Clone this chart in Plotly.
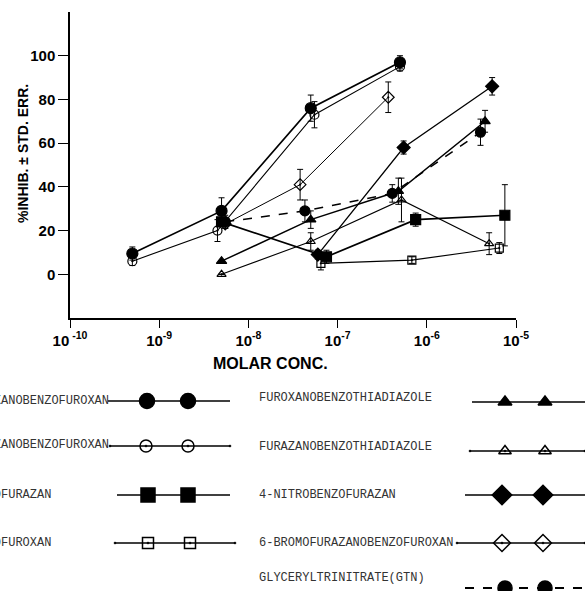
import plotly.graph_objects as go

W, H = 585, 591

# ---------------- data ----------------
names = [
    "FUROXANOBENZOFUROXAN", "FURAZANOBENZOFUROXAN", "BENZOFURAZAN", "BENZOFUROXAN",
    "FUROXANOBENZOTHIADIAZOLE", "FURAZANOBENZOTHIADIAZOLE", "4-NITROBENZOFURAZAN",
    "6-BROMOFURAZANOBENZOFUROXAN", "GLYCERYLTRINITRATE(GTN)",
]

conc_fxbfx = [5e-10, 5e-9, 5e-8, 5e-7]
inhib_fxbfx = [9.5, 29, 76, 97]
err_fxbfx = [3, 6, 6, 3]

conc_fzbfx = [5e-10, 4.5e-9, 5.5e-8, 5e-7]
inhib_fzbfx = [6, 20, 73, 95]
err_fzbfx = [2, 5, 6, 2]

conc_bfz = [5e-9, 7.5e-8, 7.5e-7, 7.5e-6]
inhib_bfz = [24, 8, 25, 27]
err_bfz = [2, 3, 3, 14]

conc_bfx = [6.5e-8, 6.8e-7, 6.5e-6]
inhib_bfx = [5, 6.5, 12]
err_bfx = [3, 1.5, 2.5]

conc_fxbtd = [5e-9, 5e-8, 4.8e-7, 4.5e-6]
inhib_fxbtd = [6, 25, 38, 70]
err_fxbtd = [0, 4, 6, 5]

conc_fzbtd = [5e-9, 5e-8, 5.2e-7, 5e-6]
inhib_fzbtd = [0, 15, 34, 14]
err_fzbtd = [0, 4, 10, 5]

conc_nbfz = [6e-8, 5.5e-7, 5.4e-6]
inhib_nbfz = [9, 58, 86]
err_nbfz = [2, 3, 4]

conc_brfzbfx = [5.5e-9, 3.8e-8, 3.7e-7]
inhib_brfzbfx = [23, 41, 81]
err_brfzbfx = [2, 7, 7]

conc_gtn = [5.5e-9, 4.3e-8, 4.1e-7, 4e-6]
inhib_gtn = [24, 29, 37, 65]
err_gtn = [3, 5, 4, 6]

y_ticks = [0, 20, 40, 60, 80, 100]
x_ticks = [1e-10, 1e-9, 1e-8, 1e-7, 1e-6, 1e-5]
x_tick_labels = ["10<sup> -10</sup>", "10<sup>-9</sup>", "10<sup>-8</sup>",
                 "10<sup>-7</sup>", "10<sup>-6</sup>", "10<sup>-5</sup>"]

# ---------------- styles ----------------
series = [
    (conc_fxbfx, inhib_fxbfx, err_fxbfx, "circle", 11, 1.7, "solid"),
    (conc_fzbfx, inhib_fzbfx, err_fzbfx, "circle-open-dot", 9, 1.1, "solid"),
    (conc_bfz, inhib_bfz, err_bfz, "square", 10, 1.7, "solid"),
    (conc_bfx, inhib_bfx, err_bfx, "square-open-dot", 8, 1.1, "solid"),
    (conc_fxbtd, inhib_fxbtd, err_fxbtd, "triangle-up", 9, 1.5, "solid"),
    (conc_fzbtd, inhib_fzbtd, err_fzbtd, "triangle-up-open-dot", 8, 1.1, "solid"),
    (conc_nbfz, inhib_nbfz, err_nbfz, "diamond", 10, 1.3, "solid"),
    (conc_brfzbfx, inhib_brfzbfx, err_brfzbfx, "diamond-open-dot", 9, 1.0, "solid"),
    (conc_gtn, inhib_gtn, err_gtn, "circle", 10, 1.5, "dash"),
]

fig = go.Figure()
for (xs, ys, es, sym, size, lw, dash), nm in zip(series, names):
    fig.add_trace(go.Scatter(
        x=xs, y=ys, name=nm, mode="lines+markers",
        line=dict(color="black", width=lw, dash=dash),
        marker=dict(symbol=sym, size=size, color="black", opacity=1,
                    line=dict(color="black", width=1.2)),
        error_y=dict(type="data", array=es, color="black", thickness=1, width=3),
        showlegend=False, xaxis="x", yaxis="y", cliponaxis=False,
    ))

# ---------------- hand-made legend (two columns, text then sample) ----------------
legend_rows = [
    # (name index, text x px, text y px, line x0, marker1, marker2, line x1, sample y, size)
    (0, -37, 401, 108, 147, 188, 230, 401, 15),
    (1, -37, 445, 110, 146, 188, 230, 446, 12),
    (2, -37, 495, 117, 148, 188, 230, 495, 14),
    (3, -37, 543, 115, 148, 190, 235, 543, 11),
    (4, 257, 398, 472, 505, 545, 585, 402, 12),
    (5, 257, 447, 470, 505, 545, 585, 451, 11),
    (6, 257, 495, 465, 502, 543, 585, 495, 15),
    (7, 257, 543, 457, 502, 543, 585, 543, 13),
    (8, 257, 578, 465, 505, 545, 585, 588, 14),
]
for idx, tx, ty, lx0, m1, m2, lx1, sy, msz in legend_rows:
    _, _, _, sym, _, lw, dash = series[idx]
    fig.add_trace(go.Scatter(
        x=[lx0, m1, m2, lx1], y=[sy] * 4, mode="lines+markers",
        line=dict(color="black", width=1.6 if dash == "solid" else 2.2, dash=dash),
        marker=dict(symbol=sym, size=[0, msz, msz, 0], color="black", opacity=1,
                    line=dict(color="black", width=1.5)),
        showlegend=False, xaxis="x2", yaxis="y2", cliponaxis=False, hoverinfo="skip",
    ))
    fig.add_annotation(
        text=names[idx], xref="paper", yref="paper", x=tx / W, y=1 - ty / H,
        xanchor="left", yanchor="middle", showarrow=False,
        font=dict(family="Liberation Mono", size=12, color="#333"),
    )

# axis titles
fig.add_annotation(text="<b>%INHIB. ± STD. ERR.</b>", xref="paper", yref="paper",
                   x=23 / W, y=1 - 154 / H, textangle=-90, showarrow=False,
                   xanchor="center", yanchor="middle",
                   font=dict(family="Liberation Sans", size=14, color="black"))
fig.add_annotation(text="<b>MOLAR CONC.</b>", xref="paper", yref="paper",
                   x=270 / W, y=1 - 363 / H, showarrow=False,
                   xanchor="center", yanchor="middle",
                   font=dict(family="Liberation Sans", size=16, color="black"))

x0, x1, y0, y1 = 70, 516, 12, 318
fig.update_layout(
    width=W, height=H,
    margin=dict(l=0, r=0, t=0, b=0, autoexpand=False),
    paper_bgcolor="white", plot_bgcolor="rgba(0,0,0,0)",
    showlegend=False,
    xaxis=dict(
        type="log", range=[-10, -5], domain=[x0 / W, x1 / W], anchor="y",
        tickvals=x_ticks, ticktext=["<b>" + t + "</b>" for t in x_tick_labels],
        ticks="outside", ticklen=8, tickwidth=1.2, tickcolor="black", automargin=False,
        showline=True, linecolor="black", linewidth=1.5, showgrid=False, zeroline=False,
        tickfont=dict(family="Liberation Sans", size=15, color="black"),
    ),
    yaxis=dict(
        range=[-20, 120], domain=[1 - y1 / H, 1 - y0 / H], anchor="x",
        tickvals=y_ticks, ticktext=["<b>%d</b>" % v for v in y_ticks],
        ticks="outside", ticklen=10, tickwidth=1.2, tickcolor="black", automargin=False,
        showline=True, linecolor="black", linewidth=1.5, showgrid=False, zeroline=False,
        tickfont=dict(family="Liberation Sans", size=15, color="black"),
    ),
    xaxis2=dict(range=[0, W], domain=[0, 1], anchor="y2", visible=False,
                fixedrange=True, automargin=False),
    yaxis2=dict(range=[H, 0], domain=[0, 1], anchor="x2", visible=False,
                fixedrange=True, automargin=False),
)

fig.write_html(
    "out.html",
    config={"displayModeBar": False},
    post_script="document.body.style.margin='0';document.body.style.overflow='hidden';",
)
